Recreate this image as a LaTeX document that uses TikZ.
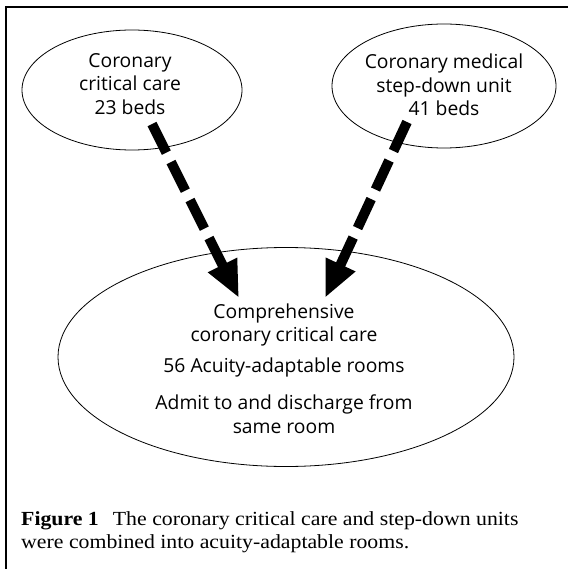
\documentclass[tikz,border=0pt]{standalone}
\usepackage{fontspec}
\setmainfont{Liberation Serif}
\newfontfamily\capfont[FakeStretch=1.09]{Liberation Serif}
\newfontfamily\labelfont{Open Sans}
\usetikzlibrary{shapes.geometric,arrows.meta}
\begin{document}
\begin{tikzpicture}[x=1pt,y=-1pt,
  unit/.style={draw,ellipse,line width=0.8pt,inner sep=0pt},
  lbl/.style={font=\labelfont\fontsize{19.3}{23.5}\selectfont,align=center,inner sep=0pt},
  capt/.style={font=\capfont\fontsize{20}{23}\selectfont,anchor=base west,inner sep=0pt},
  flow/.style={line width=10pt,dash pattern=on 32pt off 10.5pt,-{Triangle[length=37pt,width=30pt]}}]
\useasboundingbox (0,0) rectangle (568,569);
\draw[line width=1.2pt] (6,569) -- (6,7) -- (568,7);
% ellipses
\node[unit,minimum width=220pt,minimum height=120pt] (cc) at (132,90) {};
\node[unit,minimum width=224pt,minimum height=124pt] (sd) at (444,86) {};
\node[unit,minimum width=456pt,minimum height=219pt] (cm) at (286,357) {};
% texts
\node[lbl] (cct) at (130,84) {Coronary\\critical care\\23 beds};
\node[lbl] (sdt) at (444,85) {Coronary medical\\step-down unit\\41 beds};
\node[lbl] (cmt1) at (284,325) {Comprehensive\\coronary critical care};
\node[lbl] (cmt2) at (284,367) {56 Acuity-adaptable rooms};
\node[lbl] (cmt3) at (284,414) {Admit to and discharge from\\same room};
% arrows
\coordinate (ls) at (152,124);
\coordinate (lt) at (239,298);
\coordinate (rs) at (407,122);
\coordinate (rt) at (325,298);
\draw[flow] (ls) -- (lt);
\draw[flow] (rs) -- (rt);
% caption
\node[capt] (cap1) at (21,525) {\textbf{Figure 1}\hspace{0.7em}The coronary critical care and step-down units};
\node[capt] (cap2) at (21,548) {were combined into acuity-adaptable rooms.};
\end{tikzpicture}
\end{document}
